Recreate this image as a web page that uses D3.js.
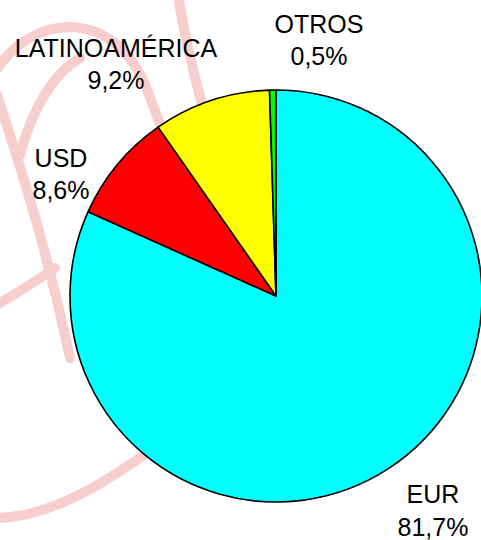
<!DOCTYPE html>
<html>
<head>
<meta charset="utf-8">
<script src="https://cdn.jsdelivr.net/npm/d3@7/dist/d3.min.js"></script>
<style>
  html, body { margin: 0; padding: 0; background: #ffffff; }
  svg { display: block; }
  text { font-family: "Liberation Sans", Arial, sans-serif; font-size: 25px; fill: #000; }
</style>
</head>
<body>
<svg id="chart" width="481" height="540"></svg>
<script>
// Currency breakdown, percent of total (clockwise from 12 o'clock)
const categories = ["EUR", "USD", "LATINOAMÉRICA", "OTROS"];
const shares = [81.7, 8.6, 9.2, 0.5];
const shareLabels = ["81,7%", "8,6%", "9,2%", "0,5%"];
const sliceColors = ["#00ffff", "#ff0000", "#ffff00", "#00ff00"];

const W = 481, H = 540;
const cx = 276, cy = 296, radius = 206;

// Label anchors, relative to the pie centre (first-line baseline)
const labelOffsets = [
  [157, 207],     // EUR
  [-215, -129.5], // USD
  [-160, -239.5], // LATINOAMÉRICA
  [43, -263.5]    // OTROS
];
const lineGap = 32.5;

const svg = d3.select("#chart");

// Faint background brush mark
const wm = svg.append("g")
  .attr("fill", "none")
  .attr("stroke", "#f8cdcd")
  .attr("stroke-width", 10)
  .attr("stroke-linecap", "round")
  .attr("stroke-linejoin", "round");
const brush = [
  "M178,-5 C185,40 196,85 212,140",
  "M-5,72 C12,45 38,28 68,27 C108,27 134,55 148,92 L166,140",
  "M80,58 C55,72 32,108 20,155",
  "M-3,95 C18,160 45,240 70,358",
  "M-5,306 C15,294 35,282 55,268",
  "M-5,518 C45,518 98,488 148,452"
];
wm.selectAll("path").data(brush).join("path").attr("d", d => d);

// Pie
const pie = d3.pie().sort(null).value(d => d.value);
const arc = d3.arc().innerRadius(0).outerRadius(radius);
const data = categories.map((c, i) => ({ name: c, value: shares[i], label: shareLabels[i], color: sliceColors[i] }));

const g = svg.append("g").attr("transform", `translate(${cx},${cy})`);
g.selectAll("path.slice")
  .data(pie(data))
  .join("path")
  .attr("class", "slice")
  .attr("d", arc)
  .attr("fill", d => d.data.color)
  .attr("stroke", "#000")
  .attr("stroke-width", 1.6)
  .attr("stroke-linejoin", "round");

// Category + percentage labels
const lbl = g.selectAll("text.lbl")
  .data(data)
  .join("text")
  .attr("class", "lbl")
  .attr("text-anchor", "middle")
  .attr("x", (d, i) => labelOffsets[i][0])
  .attr("y", (d, i) => labelOffsets[i][1]);
lbl.append("tspan")
  .attr("x", (d, i) => labelOffsets[i][0])
  .text(d => d.name);
lbl.append("tspan")
  .attr("x", (d, i) => labelOffsets[i][0])
  .attr("dy", lineGap)
  .text(d => d.label);
</script>
</body>
</html>
